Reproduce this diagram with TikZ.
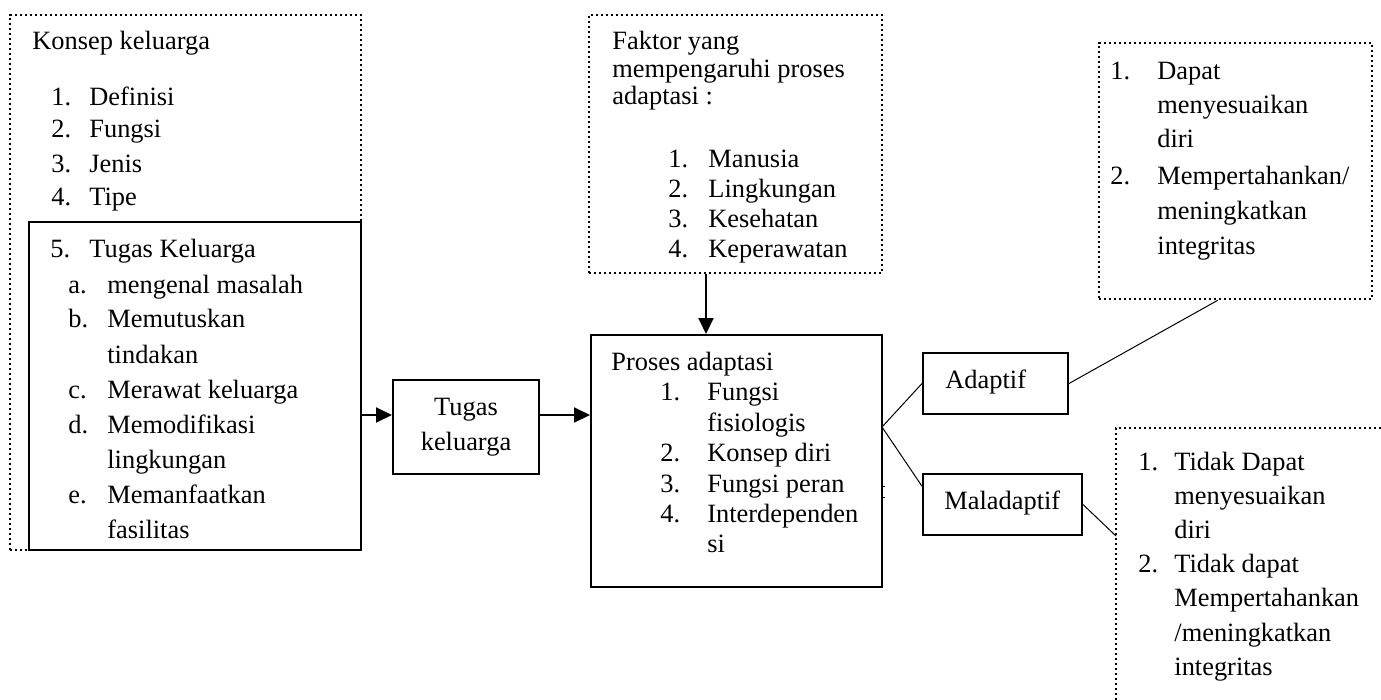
\documentclass[tikz,border=0pt]{standalone}
\usepackage{fontspec}
\setmainfont{Liberation Serif}
\usetikzlibrary{arrows.meta,fit,calc}
\newcommand\tf{\fontsize{13.2}{15}\selectfont}
\tikzset{
  sbox/.style={draw, line width=1pt, inner sep=0pt},
  dbox/.style={draw, line width=1.2pt, dash pattern=on 1.2pt off 1.3pt, inner sep=0pt},
  txt/.style={anchor=base west, inner sep=0pt, font=\tf},
  ctxt/.style={anchor=base, inner sep=0pt, font=\tf},
  arr/.style={line width=1pt, -{Triangle[length=8pt,width=7.5pt]}},
  con/.style={line width=0.5pt},
}
\begin{document}
\begin{tikzpicture}[x=0.5pt,y=-0.5pt]
\useasboundingbox (0,0) rectangle (1381,700);
\clip (0,0) rectangle (1381,700);
% boxes
\node[dbox, fit={(10,15) (361,550)}] (konsep) {};
\node[sbox, fit={(29,222) (361,550)}] (tk) {};
\node[dbox, fit={(589,15) (882,273)}] (faktor) {};
\node[sbox, fit={(393,380) (539,474)}] (tugas) {};
\node[sbox, fit={(591,335) (882,587)}] (proses) {};
\node[sbox, fit={(923,353) (1068,414)}] (adaptif) {};
\node[sbox, fit={(923,474) (1082,535)}] (mal) {};
\node[dbox, fit={(1099,43) (1372,299)}] (dapat) {};
\node[dbox, fit={(1116,428) (1420,740)}] (tidak) {};
% left box texts
\node[txt] (k0) at (32,50) {Konsep keluarga};
\node[txt] (k1) at (51,106) {\makebox[19pt][l]{1.}Definisi};
\node[txt] (k2) at (51,138) {\makebox[19pt][l]{2.}Fungsi};
\node[txt] (k3) at (51,173) {\makebox[19pt][l]{3.}Jenis};
\node[txt] (k4) at (51,206) {\makebox[19pt][l]{4.}Tipe};
\node[txt] (k5) at (50,258) {\makebox[19.5pt][l]{5.}Tugas Keluarga};
\node[txt] (ka) at (68,293) {\makebox[19.5pt][l]{a.}mengenal masalah};
\node[txt] (kb) at (68,328) {\makebox[19.5pt][l]{b.}Memutuskan};
\node[txt] (kb2) at (107,363) {tindakan};
\node[txt] (kc) at (68,398) {\makebox[19.5pt][l]{c.}Merawat keluarga};
\node[txt] (kd) at (68,433) {\makebox[19.5pt][l]{d.}Memodifikasi};
\node[txt] (kd2) at (107,468) {lingkungan};
\node[txt] (ke) at (68,503) {\makebox[19.5pt][l]{e.}Memanfaatkan};
\node[txt] (ke2) at (107,538) {fasilitas};
% faktor texts
\node[txt] (f0) at (612,50) {Faktor yang};
\node[txt] (f1) at (612,78) {mempengaruhi proses};
\node[txt] (f2) at (612,105) {adaptasi :};
\node[txt] (f3) at (668,168) {\makebox[20pt][l]{1.}Manusia};
\node[txt] (f4) at (668,198) {\makebox[20pt][l]{2.}Lingkungan};
\node[txt] (f5) at (668,228) {\makebox[20pt][l]{3.}Kesehatan};
\node[txt] (f6) at (668,257) {\makebox[20pt][l]{4.}Keperawatan};
% tugas texts
\node[ctxt] (t1) at (466,415) {Tugas};
\node[ctxt] (t2) at (466,450) {keluarga};
% proses texts
\node[txt] (p0) at (611,370) {Proses adaptasi};
\node[txt] (p1) at (660,400) {\makebox[23.5pt][l]{1.}Fungsi};
\node[txt] (p1b) at (707,431) {fisiologis};
\node[txt] (p2) at (660,461) {\makebox[23.5pt][l]{2.}Konsep diri};
\node[txt] (p3) at (660,492) {\makebox[23.5pt][l]{3.}Fungsi peran};
\node[txt] (p4) at (660,522) {\makebox[23.5pt][l]{4.}Interdependen};
\node[txt] (p4b) at (707,552) {si};
% adaptif / maladaptif
\node[txt] (at) at (945,388) {Adaptif};
\node[txt] (mt) at (944,509) {Maladaptif};
% right top texts
\node[txt] (d1) at (1110,80) {\makebox[23.5pt][l]{1.}Dapat};
\node[txt] (d1b) at (1157,114) {menyesuaikan};
\node[txt] (d1c) at (1157,148) {diri};
\node[txt] (d2) at (1110,185) {\makebox[23.5pt][l]{2.}Mempertahankan/};
\node[txt] (d2b) at (1157,220) {meningkatkan};
\node[txt] (d2c) at (1157,255) {integritas};
% bottom right texts
\node[txt] (n1) at (1138,470) {\makebox[18pt][l]{1.}Tidak Dapat};
\node[txt] (n1b) at (1174,504) {menyesuaikan};
\node[txt] (n1c) at (1174,538) {diri};
\node[txt] (n2) at (1138,572) {\makebox[18pt][l]{2.}Tidak dapat};
\node[txt] (n2b) at (1174,606) {Mempertahankan};
\node[txt] (n2c) at (1174,641) {/meningkatkan};
\node[txt] (n2d) at (1174,675) {integritas};
% connectors
\coordinate (a1) at (0,415);
\coordinate (a2) at (706,0);
\coordinate (j) at (882,427);
\coordinate (c3) at (1116,536);
\draw[arr] (tk.east |- a1) -- (tugas.west |- a1);
\draw[arr] (tugas.east |- a1) -- (proses.west |- a1);
\draw[arr] (faktor.south -| a2) -- (proses.north -| a2);
\draw[con] (j) -- (adaptif.west);
\draw[con] (j) -- ($(mal.north west)!0.21!(mal.south west)$);
\draw[con] (adaptif.east) -- ($(dapat.south west)!0.436!(dapat.south east)$);
\draw[con] (mal.east) -- (c3);
% small ticks
\draw[con] (882,486) -- (885,486);
\draw[con] (882,497) -- (885,497);
\end{tikzpicture}
\end{document}
